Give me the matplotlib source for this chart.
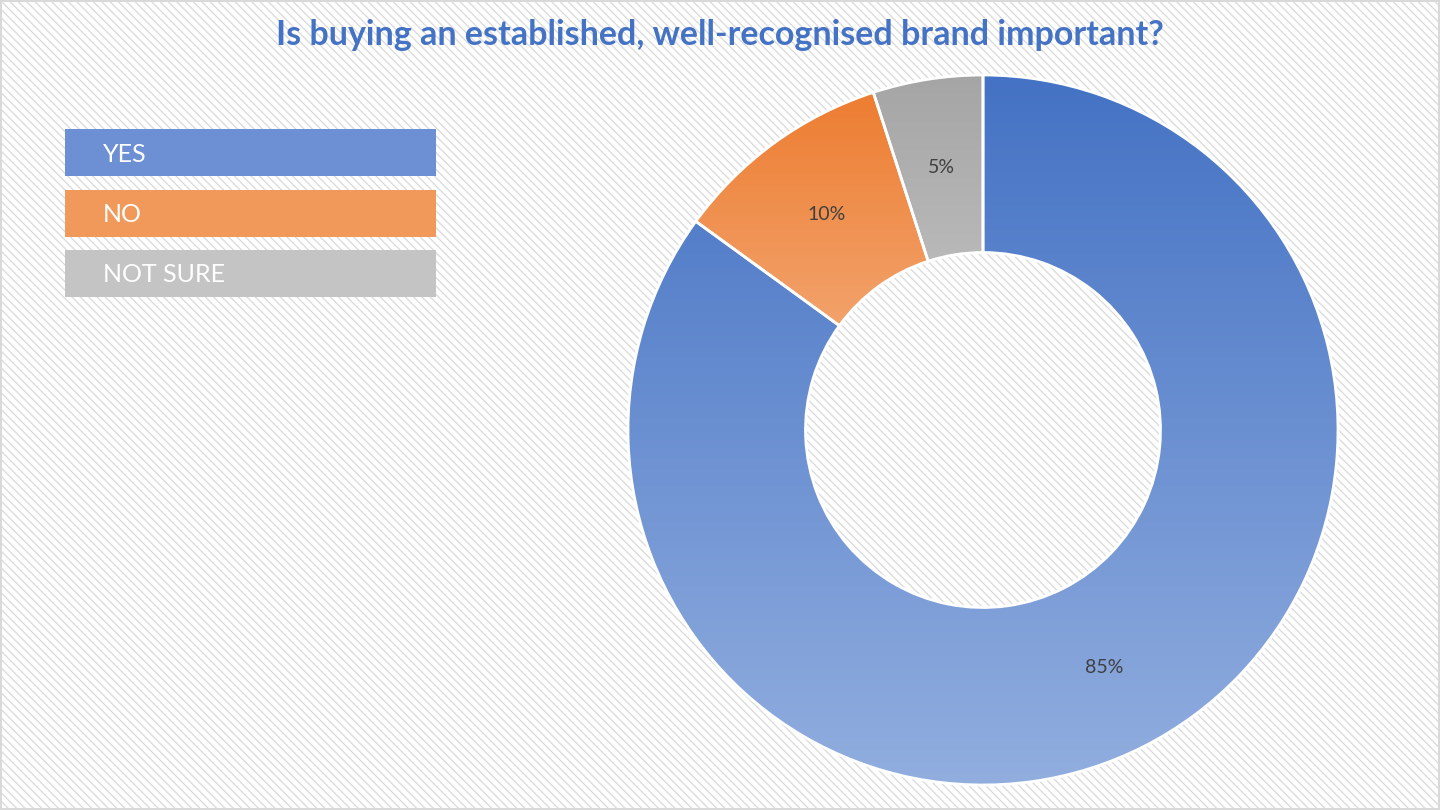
import numpy as np
import matplotlib
matplotlib.use("Agg")
import matplotlib.pyplot as plt
from matplotlib.colors import LinearSegmentedColormap
from matplotlib.patches import Rectangle

# data
labels = ["YES", "NO", "NOT SURE"]
shares = [85, 10, 5]
title = "Is buying an established, well-recognised brand important?"

# gradient top / bottom per slice, flat legend colours
grad_top = ["#4472c4", "#ed7d31", "#a5a5a5"]
grad_bot = ["#92aedf", "#f5b386", "#cbcbcb"]
legend_cols = ["#6d8fd3", "#f0995a", "#c4c4c4"]

plt.rcParams["font.family"] = ["Lato", "DejaVu Sans"]
plt.rcParams["hatch.color"] = "#e2e2e2"
plt.rcParams["hatch.linewidth"] = 0.9

fig = plt.figure(figsize=(14.4, 8.1), dpi=100)
fig.patch.set_facecolor("white")
fig.patch.set_hatch("\\\\\\\\")
fig.patch.set_edgecolor("#d9d9d9")
fig.patch.set_linewidth(1.5)

ax = fig.add_axes([628 / 1440, 25 / 810, 710 / 1440, 710 / 810])
ax.set_facecolor("none")

wedges, texts, autotexts = ax.pie(
    shares, startangle=90, counterclock=False, radius=1.0,
    autopct="%1.0f%%", pctdistance=0.75,
    wedgeprops=dict(width=0.5, edgecolor="white", linewidth=2),
    textprops=dict(color="#404040", fontsize=14))

for i, w in enumerate(wedges):
    v = w.get_path().vertices
    x0, x1 = v[:, 0].min(), v[:, 0].max()
    y0, y1 = v[:, 1].min(), v[:, 1].max()
    cmap = LinearSegmentedColormap.from_list("g%d" % i, [grad_top[i], grad_bot[i]])
    grad = np.linspace(0, 1, 256).reshape(-1, 1)
    im = ax.imshow(grad, cmap=cmap, extent=[x0, x1, y0, y1], origin="upper",
                   aspect="auto", zorder=0.5, interpolation="bilinear")
    im.set_clip_path(w)
    w.set_facecolor("none")
    w.set_zorder(1)

for t in autotexts:
    t.set_zorder(3)

ax.set_xlim(-1, 1)
ax.set_ylim(-1, 1)
ax.set_aspect("equal")
ax.axis("off")

# legend as coloured bars
box_tops = [129, 190, 250]
for lab, col, top in zip(labels, legend_cols, box_tops):
    fig.add_artist(Rectangle((65 / 1440, 1 - (top + 47) / 810), 371 / 1440, 47 / 810,
                             transform=fig.transFigure, facecolor=col,
                             edgecolor="none"))
    fig.text(103 / 1440, 1 - (top + 25) / 810, lab, color="white", fontsize=18,
             va="center", ha="left")

fig.text(0.5, 1 - 35 / 810, title, color="#4472c4", fontsize=24.5,
         fontweight="bold", ha="center", va="center")

fig.savefig("out.png", dpi=100, facecolor=fig.get_facecolor())
